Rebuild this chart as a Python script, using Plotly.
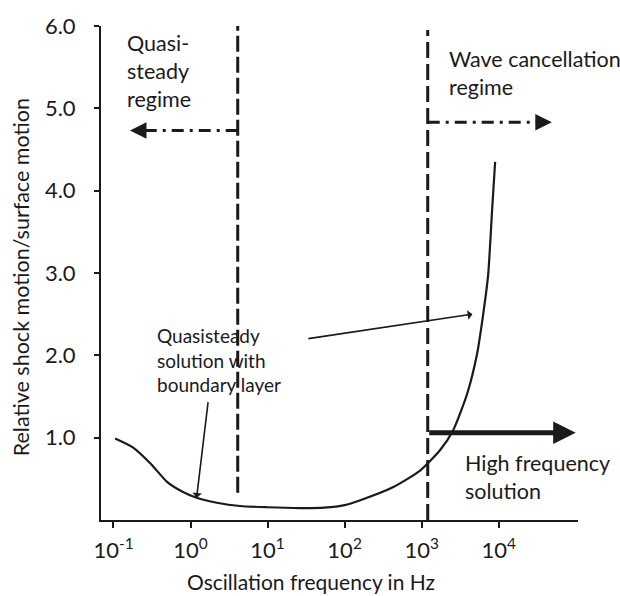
import plotly.graph_objects as go
import math

# ---- data ----
freq_hz = [0.105, 0.18, 0.30, 0.50, 0.80, 1.2, 2.2, 4.4, 9.8, 26, 55, 100, 160, 430, 955, 1740, 2570, 3890, 5250, 6300, 7310, 8240, 9000]
ratio   = [0.99, 0.88, 0.69, 0.46, 0.34, 0.27, 0.21, 0.17, 0.155, 0.145, 0.15, 0.18, 0.24, 0.40, 0.60, 0.85, 1.09, 1.53, 2.02, 2.50, 2.98, 3.78, 4.35]

quasi_limit_hz = 4.1      # quasi-steady regime boundary
wave_limit_hz = 1200      # wave cancellation regime boundary
quasi_line_y = [0.33, 6.0]
wave_line_y = [0.0, 5.95]
quasi_arrow = {"from": 4.1, "to": 0.164, "y": 4.73}
wave_arrow = {"from": 1200, "to": 49000, "y": 4.83}
hf_arrow = {"from": 1200, "to": 100000, "y": 1.06}

x_tickvals = [0.1, 1, 10, 100, 1000, 10000]
x_ticktext = ["10<sup>-1</sup>", "10<sup>0</sup>", "10<sup>1</sup>", "10<sup>2</sup>", "10<sup>3</sup>", "10<sup>4</sup>"]
y_tickvals = [1, 2, 3, 4, 5, 6]
y_ticktext = ["1.0", "2.0", "3.0", "4.0", "5.0", "6.0"]

FONT = "Lato"
INK = "#1a1a1a"
lg = math.log10

fig = go.Figure()

fig.add_trace(go.Scatter(x=freq_hz, y=ratio, mode="lines",
                         line=dict(color=INK, width=2.2, shape="spline", smoothing=0.6), hoverinfo="skip"))

# regime boundaries
fig.add_trace(go.Scatter(x=[quasi_limit_hz, quasi_limit_hz], y=quasi_line_y, mode="lines",
                         line=dict(color=INK, width=3, dash="16px,5px"), hoverinfo="skip"))
fig.add_trace(go.Scatter(x=[wave_limit_hz, wave_limit_hz], y=wave_line_y, mode="lines",
                         line=dict(color=INK, width=3, dash="16px,6px"), hoverinfo="skip"))

# dashed horizontal arrow shafts
for arr in (quasi_arrow, wave_arrow):
    fig.add_trace(go.Scatter(x=[arr["from"], arr["to"]], y=[arr["y"], arr["y"]], mode="lines",
                             line=dict(color=INK, width=3, dash="12px,6px,3px,6px"), hoverinfo="skip"))

annotations = []
# arrowheads for dashed arrows
annotations.append(dict(x=lg(quasi_arrow["to"]), y=quasi_arrow["y"], xref="x", yref="y", ax=12, ay=0,
                        text="", showarrow=True, arrowhead=2, arrowsize=1.1, arrowwidth=3, arrowcolor=INK))
annotations.append(dict(x=lg(wave_arrow["to"]), y=wave_arrow["y"], xref="x", yref="y", ax=-12, ay=0,
                        text="", showarrow=True, arrowhead=2, arrowsize=1.1, arrowwidth=3, arrowcolor=INK))
# thick high-frequency arrow
annotations.append(dict(x=lg(hf_arrow["to"]), y=hf_arrow["y"], xref="x", yref="y",
                        ax=lg(hf_arrow["from"]), ay=hf_arrow["y"], axref="x", ayref="y",
                        text="", showarrow=True, arrowhead=2, arrowsize=0.9, arrowwidth=5, arrowcolor=INK))
# thin pointer arrows
annotations.append(dict(x=lg(1.2), y=0.27, xref="x", yref="y", ax=lg(1.7), ay=1.45, axref="x", ayref="y",
                        text="", showarrow=True, arrowhead=1, arrowsize=1, arrowwidth=1.6, arrowcolor=INK))
annotations.append(dict(x=3.66, y=2.50, xref="x", yref="y", ax=1.51, ay=2.20, axref="x", ayref="y",
                        text="", showarrow=True, arrowhead=1, arrowsize=1, arrowwidth=1.6, arrowcolor=INK))

# texts
annotations.append(dict(x=-0.85, y=5.98, xref="x", yref="y", xanchor="left", yanchor="top", align="left",
                        text="Quasi-<br>steady<br>regime", showarrow=False, font=dict(family=FONT, size=21.5, color=INK)))
annotations.append(dict(x=3.33, y=5.78, xref="x", yref="y", xanchor="left", yanchor="top", align="left",
                        text="Wave cancellation<br>regime", showarrow=False, font=dict(family=FONT, size=21.5, color=INK)))
annotations.append(dict(x=3.54, y=0.88, xref="x", yref="y", xanchor="left", yanchor="top", align="left",
                        text="High frequency<br>solution", showarrow=False, font=dict(family=FONT, size=21.5, color=INK)))
annotations.append(dict(x=-0.46, y=2.40, xref="x", yref="y", xanchor="left", yanchor="top", align="left",
                        text="Quasisteady<br>solution with<br>boundary layer", showarrow=False, font=dict(family=FONT, size=19, color=INK)))
# axis titles
annotations.append(dict(x=0.44, y=-0.124, xref="paper", yref="paper", xanchor="center", yanchor="middle",
                        text="Oscillation frequency in Hz", showarrow=False, font=dict(family=FONT, size=21, color=INK)))
annotations.append(dict(x=-0.166, y=0.491, xref="paper", yref="paper", xanchor="center", yanchor="middle", textangle=-90,
                        text="Relative shock motion/surface motion", showarrow=False, font=dict(family=FONT, size=21.5, color=INK)))

fig.update_layout(
    width=620, height=596,
    margin=dict(l=101, r=42, t=23, b=76),
    paper_bgcolor="white", plot_bgcolor="white",
    showlegend=False,
    annotations=annotations,
    font=dict(family=FONT, color=INK),
)
fig.update_xaxes(type="log", range=[-1.162, 5.03], tickvals=x_tickvals, ticktext=x_ticktext,
                 showline=True, linecolor=INK, linewidth=2, showgrid=False, zeroline=False,
                 ticks="outside", ticklen=6, tickwidth=1.5, tickcolor=INK,
                 tickfont=dict(family=FONT, size=22, color=INK), ticklabelstandoff=4)
fig.update_yaxes(range=[0, 6], tickvals=y_tickvals, ticktext=y_ticktext,
                 showline=True, linecolor=INK, linewidth=2, showgrid=False, zeroline=False,
                 ticks="outside", ticklen=5, tickwidth=1.5, tickcolor=INK,
                 tickfont=dict(family=FONT, size=22, color=INK), ticklabelstandoff=14)

fig.write_html("out.html", config={"displayModeBar": False},
               post_script="document.body.style.margin='0';document.body.style.padding='0';")
